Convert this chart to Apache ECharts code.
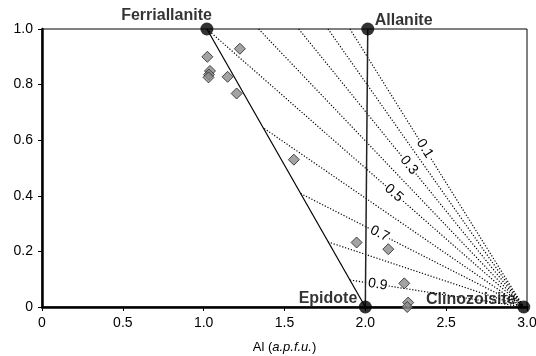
<!DOCTYPE html>
<html><head><meta charset="utf-8">
<script src="https://cdn.jsdelivr.net/npm/echarts@6/dist/echarts.min.js"></script>
<style>html,body{margin:0;padding:0;background:#fff}#c{width:536px;height:356px}</style>
</head><body><div id="c"></div>
<script>
// ---- data ----
const xTickLabels = ['0', '0.5', '1.0', '1.5', '2.0', '2.5', '3.0'];
const yTickLabels = ['0', '0.2', '0.4', '0.6', '0.8', '1.0'];
const endNames = ['Ferriallanite', 'Allanite', 'Epidote', 'Clinozoisite'];
const endAl = [1.02, 2.015, 2.0, 2.98];
const endY = [1, 1, 0, 0];
const sampleAl = [1.023, 1.224, 1.039, 1.033, 1.030, 1.148, 1.204, 1.558, 1.946, 2.142, 2.241, 2.265, 2.259];
const sampleY = [0.900, 0.929, 0.849, 0.836, 0.826, 0.828, 0.768, 0.530, 0.232, 0.208, 0.085, 0.016, 0.000];
const isoStartAl = [1.905, 1.769, 1.588, 1.340, 1.020, 1.375, 1.600, 1.769, 1.905];
const isoStartY = [1, 1, 1, 1, 1, 0.642, 0.408, 0.234, 0.097];
const isoLabels = ['0.1', '', '0.3', '', '0.5', '', '0.7', '', '0.9'];

// ---- layout / style ----
const FONT = "'Liberation Sans', Arial, sans-serif";
const labelAlong = [0.43, 0, 0.49, 0, 0.59, 0, 0.354, 0, 0.16];
const endLabelStyle = [
  {align: 'right', offset: [5, -13.5]},
  {align: 'left', offset: [7, -8.5]},
  {align: 'right', offset: [-8, -8]},
  {align: 'right', offset: [-8, -7.5]}
];

const chart = echarts.init(document.getElementById('c'), null, {renderer: 'canvas'});
const czX = endAl[3], czY = endY[3];

const series = [];
isoStartAl.forEach((x, i) => {
  series.push({
    type: 'line', symbol: 'none', silent: true, z: 2,
    data: [[x, isoStartY[i]], [czX, czY]],
    lineStyle: {color: '#000', width: 1.2, type: [1.2, 1.8]}
  });
});
series.push({
  type: 'line', symbol: 'none', silent: true, z: 3,
  data: [[endAl[0], endY[0]], [endAl[2], endY[2]]],
  lineStyle: {color: '#000', width: 1.2}
});
series.push({
  type: 'line', symbol: 'none', silent: true, z: 3,
  data: [[endAl[1], endY[1]], [endAl[2], endY[2]]],
  lineStyle: {color: '#222', width: 1.5}
});
series.push({
  type: 'scatter', symbol: 'diamond', symbolSize: 11, z: 5, clip: false,
  data: sampleAl.map((x, i) => [x, sampleY[i]]),
  itemStyle: {color: '#8c8c8c', borderColor: '#222', borderWidth: 1}
});
series.push({
  type: 'scatter', symbol: 'circle', symbolSize: 13, z: 6, clip: false,
  data: endAl.map((x, i) => ({
    value: [x, endY[i]], name: endNames[i],
    label: {
      show: true, position: 'inside', verticalAlign: 'middle',
      align: endLabelStyle[i].align, offset: endLabelStyle[i].offset,
      formatter: endNames[i], fontFamily: FONT, fontWeight: 'bold', fontSize: 16, color: '#000'
    }
  })),
  itemStyle: {color: '#000'}
});

chart.setOption({
  animation: false,
  backgroundColor: '#fff',
  textStyle: {fontFamily: FONT},
  grid: {left: 42, right: 9, top: 29, bottom: 49, show: true, borderColor: '#000', borderWidth: 1,
    backgroundColor: 'transparent', containLabel: false, outerBoundsMode: 'none'},
  xAxis: {
    type: 'value', min: 0, max: 3, interval: 0.5,
    axisLine: {show: true, onZero: false, lineStyle: {color: '#000', width: 2.5}},
    axisTick: {show: true, length: 4, lineStyle: {color: '#000', width: 1}},
    axisLabel: {fontSize: 14, color: '#000', margin: 9, fontFamily: FONT,
      formatter: v => xTickLabels[Math.round(v / 0.5)]},
    splitLine: {show: false},
    name: '{n|Al (}{i|a.p.f.u.}{n|)}', nameLocation: 'middle', nameGap: 34,
    nameTextStyle: {fontFamily: FONT, fontSize: 13, color: '#000',
      rich: {n: {fontFamily: FONT, fontSize: 13, color: '#000'}, i: {fontFamily: FONT, fontSize: 13, fontStyle: 'italic', color: '#000'}}}
  },
  yAxis: {
    type: 'value', min: 0, max: 1, interval: 0.2,
    axisLine: {show: true, onZero: false, lineStyle: {color: '#000', width: 2.5}},
    axisTick: {show: true, length: 4, lineStyle: {color: '#000', width: 1}},
    axisLabel: {fontSize: 14, color: '#000', margin: 9, fontFamily: FONT,
      formatter: v => yTickLabels[Math.round(v / 0.2)]},
    splitLine: {show: false}
  },
  series: series
});

// rotated labels along the iso-lines
const graphics = [];
isoStartAl.forEach((x, i) => {
  if (!isoLabels[i]) return;
  const p0 = chart.convertToPixel({gridIndex: 0}, [x, isoStartY[i]]);
  const p1 = chart.convertToPixel({gridIndex: 0}, [czX, czY]);
  const t = labelAlong[i];
  const px = p0[0] + (p1[0] - p0[0]) * t;
  const py = p0[1] + (p1[1] - p0[1]) * t;
  const ang = Math.atan2(p1[1] - p0[1], p1[0] - p0[0]);
  graphics.push({
    type: 'text', x: px, y: py, rotation: -ang, z: 10,
    style: {text: isoLabels[i], fontFamily: FONT, fontSize: 14, fill: '#000',
      align: 'center', verticalAlign: 'middle', backgroundColor: '#fff', padding: [0, 1]}
  });
});
chart.setOption({graphic: graphics});
</script>
</body></html>
